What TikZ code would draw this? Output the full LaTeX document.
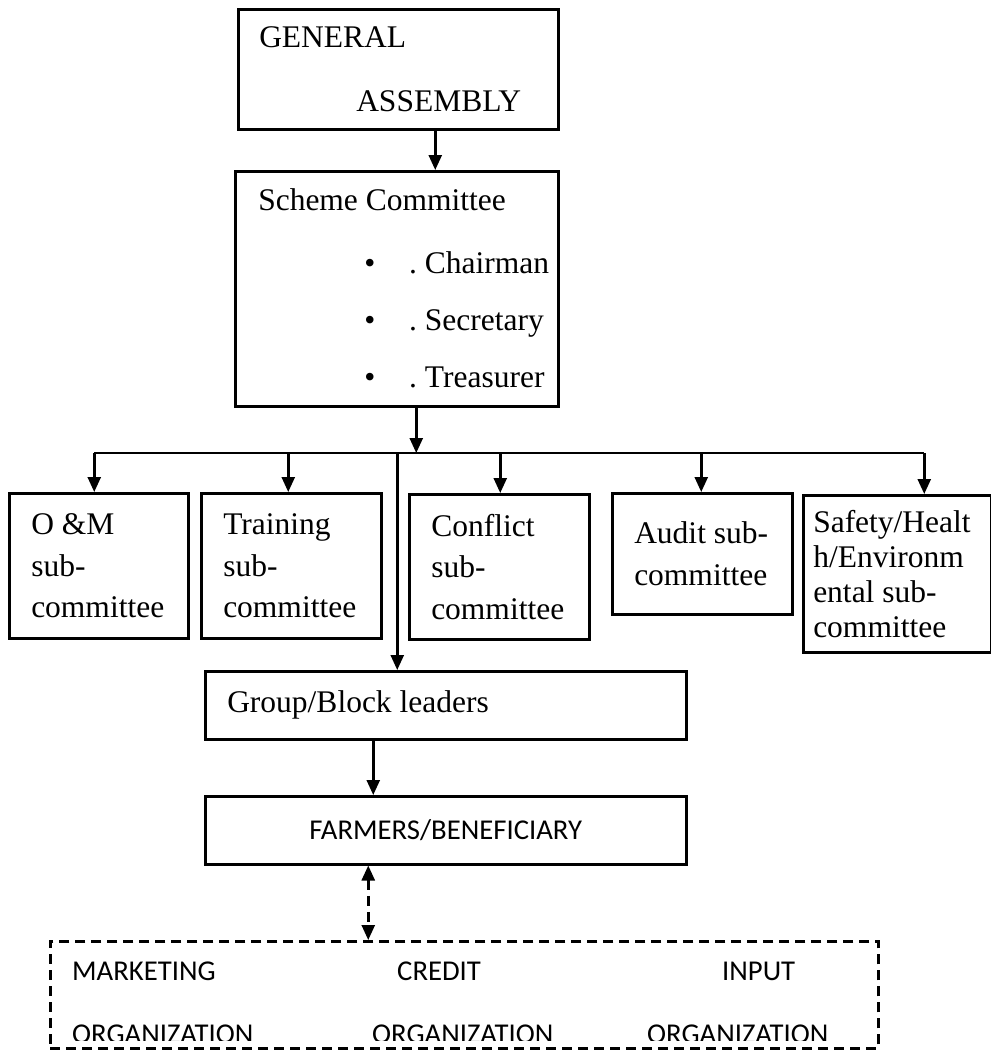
\documentclass[tikz,border=0pt]{standalone}
\usepackage{fontspec}
\setmainfont{Liberation Serif}
\newfontfamily\calibri{Carlito}
\usetikzlibrary{arrows.meta}
\hyphenpenalty=10000
\newcommand\scbullet[1]{\mbox{\hspace*{106pt}\makebox[45pt][l]{\textbullet}.~#1}}
\begin{document}
\begin{tikzpicture}[x=1pt,y=-1pt,
	box/.style={draw,line width=2.5pt,anchor=north west,align=flush left,inner ysep=0pt,font=\fontsize{31.5}{41.5}\selectfont},
	dbox/.style={draw,line width=2.5pt,dash pattern=on 10pt off 6pt,anchor=north west,inner sep=0pt},
	lbl/.style={anchor=north west,inner sep=0pt,align=flush left,font=\calibri\fontsize{28.7}{63}\selectfont},
	arr/.style={line width=2.5pt,-{Triangle[length=15pt,width=13pt]}},
	darr/.style={line width=2.5pt,dash pattern=on 10pt off 6pt,{Triangle[length=15pt,width=13pt]}-{Triangle[length=15pt,width=13pt]}}]
				\useasboundingbox (0,0) rectangle (991,1050);
				\node[box,inner xsep=21pt,text width=278pt,minimum height=120pt,font=\fontsize{31.5}{64}\selectfont] (ga) at (237,8) {GENERAL\\\mbox{\hspace*{97pt}ASSEMBLY}};
				\node[box,inner xsep=23pt,text width=277pt,minimum height=235pt,font=\fontsize{31.5}{57}\selectfont] (sc) at (234,170) {Scheme Committee\\[6pt]\scbullet{Chairman}\\\scbullet{Secretary}\\\scbullet{Treasurer}};
				\draw[arr] ([xshift=37pt]ga.south) -- ([xshift=37pt]ga.south |- sc.north);

				\node[box,inner xsep=22pt,text width=135pt,minimum height=145pt] (om) at (8,492) {O \&M\\sub-\\committee};
				\node[box,inner xsep=22pt,text width=136pt,minimum height=145pt] (tr) at (200,492) {Training\\sub-\\committee};
				\node[box,inner xsep=22pt,text width=136pt,minimum height=145pt] (cf) at (408,493) {Conflict\\sub-\\committee};
				\node[box,inner xsep=22pt,text width=136pt,minimum height=121pt] (au) at (611,492) {Audit~sub-\\committee};
				\node[box,inner xsep=10pt,text width=168pt,minimum height=157pt,font=\fontsize{31.5}{35}\selectfont] (sf) at (802,494) {Safety/Healt\\h/Environm\\ental~sub-\\committee};

				\coordinate (bus) at (415,453);
				\draw[arr] ([xshift=19.5pt]sc.south) -- ([xshift=19.5pt]sc.south |- bus);
				\draw[line width=2.5pt] ([xshift=-4.5pt]om.north |- bus) -- ([xshift=27pt]sf.north |- bus);
				\foreach \n/\dx in {om/-4.5,tr/-3,cf/1,au/-1,sf/27}
					\draw[arr] ([xshift=\dx pt]\n.north |- bus) -- ([xshift=\dx pt]\n.north);

				\node[box,inner xsep=22pt,text width=437pt,minimum height=68pt] (gb) at (204,670) {Group/Block leaders};
				\node[box,inner xsep=0pt,text width=481pt,minimum height=68pt,align=flush center,font=\calibri\fontsize{28.7}{34}\selectfont] (fb) at (204,795) {FARMERS/BENEFICIARY};
				\draw[arr] ([xshift=-48.5pt]gb.north |- bus) -- ([xshift=-48.5pt]gb.north);
				\draw[arr] ([xshift=-72.5pt]gb.south) -- ([xshift=-72.5pt]gb.south |- fb.north);

				\node[dbox,minimum width=828pt,minimum height=107pt] (orgs) at (49,940) {};
				\draw[darr] ([xshift=-77.5pt]fb.south) -- ([xshift=-77.5pt]fb.south |- orgs.north);
				\begin{scope}
					\clip (orgs.north west) rectangle ([yshift=9pt]orgs.south east);
					\node[lbl] (mkt) at (72,962) {MARKETING\\ORGANIZATION};
					\node[lbl] (crd) at (372,962) {\hspace*{25pt}CREDIT\\ORGANIZATION};
					\node[lbl] (inp) at (647,962) {\hspace*{75pt}INPUT\\ORGANIZATION};
				\end{scope}
			\end{tikzpicture}
\end{document}
